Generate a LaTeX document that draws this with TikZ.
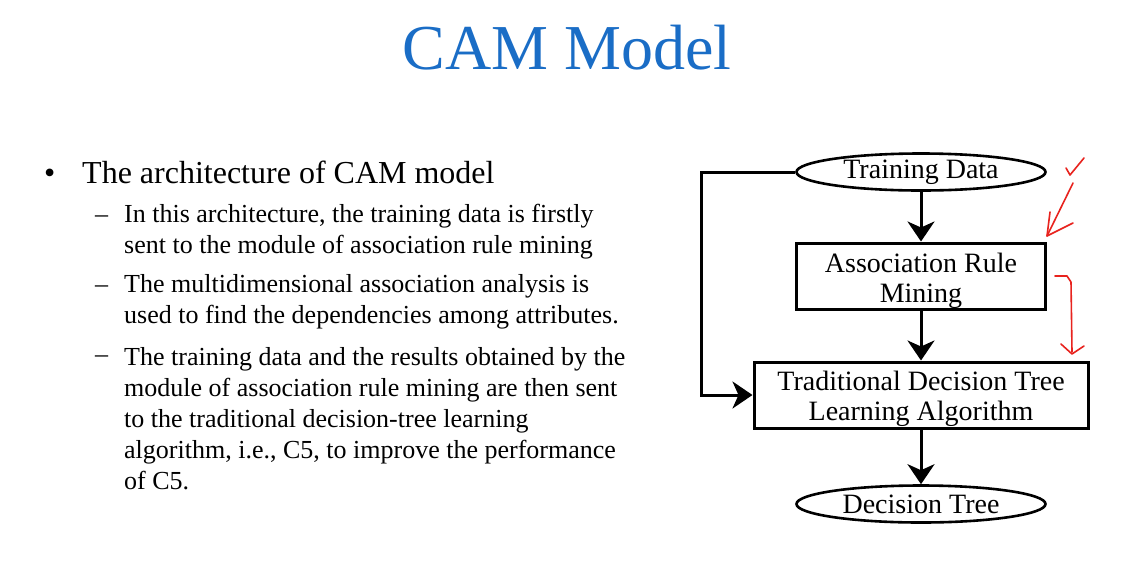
\documentclass[tikz,border=0pt]{standalone}
\usepackage{fontspec}
\setmainfont{Liberation Serif}
\usetikzlibrary{shapes.geometric,arrows.meta,positioning}
\definecolor{camblue}{HTML}{1A6DC6}
\definecolor{inkred}{HTML}{E8231E}

\tikzset{
  block/.style={draw, line width=3pt, rectangle, inner sep=0pt, minimum height=66pt,
    align=center, font=\fontsize{28}{30}\selectfont},
  terminal/.style={draw, line width=2.6pt, ellipse, inner sep=0pt, minimum width=249pt,
    minimum height=37pt, font=\fontsize{28}{30}\selectfont},
  flow/.style={line width=3pt, -{Stealth[length=20pt,width=27pt,inset=6pt]}},
  item/.style={anchor=base west, inner sep=0pt, align=left,
    font=\fontsize{26}{31}\selectfont},
  ink/.style={inkred, line width=1.6pt, line cap=round, line join=round},
}

\begin{document}
\begin{tikzpicture}[x=1pt, y=-1pt]
  \useasboundingbox[fill=white] (0,0) rectangle (1143,574);

  % Title
  \node[text=camblue, font=\fontsize{64}{70}\selectfont, inner sep=0pt] (title) at (567,48) {CAM Model};

  % Bullet text (multi-line items are anchored on their last baseline)
  \node[anchor=base west, inner sep=0pt, font=\fontsize{32}{36}\selectfont] (dot) at (44,183) {\textbullet};
  \node[anchor=base west, inner sep=0pt, font=\fontsize{32}{36}\selectfont] (head) at (82,183) {The architecture of CAM model};
  \node[item] (d1) at (95,222) {\textendash};
  \node[item] (s1) at (124,253) {In this architecture, the training data is firstly\\
    sent to the module of association rule mining};
  \node[item] (d2) at (95,292) {\textendash};
  \node[item] (s2) at (124,323) {The multidimensional association analysis is\\
    used to find the dependencies among attributes.};
  \node[item] (d3) at (95,362) {\textendash};
  \node[item] (s3) at (124,489) {The training data and the results obtained by the\\
    module of association rule mining are then sent\\
    to the traditional decision-tree learning\\
    algorithm, i.e., C5, to improve the performance\\
    of C5.};

  % Flow chart
  \node[terminal] (td) at (921,172) {Training Data};
  \node[block, minimum width=249pt] (arm) at (921,276) {\parbox{240pt}{\centering\vspace{10pt}Association Rule\\Mining}};
  \node[block, minimum width=334pt] (trad) at (921,395) {\parbox{320pt}{\centering\vspace{8pt}Traditional Decision Tree\\Learning Algorithm}};
  \node[terminal] (dt) at (921,504) {Decision Tree};

  \draw[flow] (td) -- (arm);
  \draw[flow] (arm) -- (trad);
  \draw[flow] (trad) -- (dt);
  \draw[flow] (td.west) -- ++(-94,0) |- (trad.west);

  % handwritten marks
  \draw[ink] (1066,168) -- (1070,175) -- (1084,158);
  \draw[ink] (1073,183) -- (1047,236);
  \draw[ink] (1050,212) -- (1047,236) -- (1073,223);
  \draw[ink] (1055,276) -- (1067,276) -- (1071,282) -- (1072,352);
  \draw[ink] (1061,344) -- (1072,354) -- (1084,346);
\end{tikzpicture}
\end{document}
